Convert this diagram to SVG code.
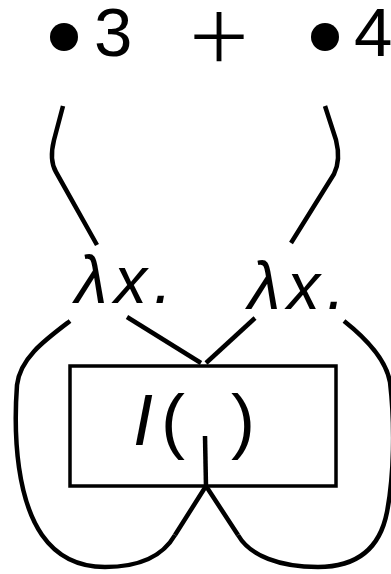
<svg xmlns="http://www.w3.org/2000/svg" width="391" height="574" viewBox="0 0 391 574">
<style>
.w{fill:none;stroke:#000;stroke-width:4.5;stroke-linecap:butt;stroke-linejoin:round}
.t{font-family:"Liberation Sans","DejaVu Sans",sans-serif;fill:#000}
.box{fill:#fff;stroke:#000;stroke-width:3.5}
.plus{font-family:Inter,Lato,"Open Sans","Liberation Sans",sans-serif;font-weight:200;fill:#000}
</style>
<rect width="391" height="574" fill="#fff"/>
<g id="connectors">
<path class="w" d="M63,106 L54,140 Q49,160 56,172 L97,245"/>
<path class="w" d="M325,106 L336,140 Q341,160 334,174 L291,243"/>
<path class="w" d="M127,317 L201,363"/>
<path class="w" d="M255,318 L206,363"/>
<path class="w" d="M70,321 C45,340 20,358 17,385 C13,440 18,500 42,535 C58,558 80,567 105,567 C140,567 163,556 175,535"/>
<path class="w" d="M344,321 C368,340 386,360 390,382 C395,425 394,475 387,512 C380,548 358,567 318,567 C280,567 250,556 238,535"/>
<path class="w" d="M175,535 L206,486 L238,535"/>
</g>
<g id="node-sum">
<circle cx="64" cy="37" r="14"/>
<text class="t" x="94" y="56" font-size="69">3</text>
<text class="plus" x="219" y="69" font-size="114" text-anchor="middle">+</text>
<circle cx="325" cy="37" r="14"/>
<text class="t" x="354" y="56" font-size="69">4</text>
</g>
<g id="node-lambda1">
<text class="t" x="75" y="303" font-size="66" font-style="italic" textLength="97" lengthAdjust="spacing">λx.</text>
</g>
<g id="node-lambda2">
<text class="t" x="248" y="309" font-size="66" font-style="italic" textLength="97" lengthAdjust="spacing">λx.</text>
</g>
<g id="node-box">
<rect class="box" x="70" y="366" width="266" height="120"/>
<text class="t" font-size="72" y="445"><tspan x="133" font-style="italic">I</tspan><tspan x="161">(</tspan><tspan x="231">)</tspan></text>
<path class="w" d="M205,436 L206,487"/>
</g>
</svg>
